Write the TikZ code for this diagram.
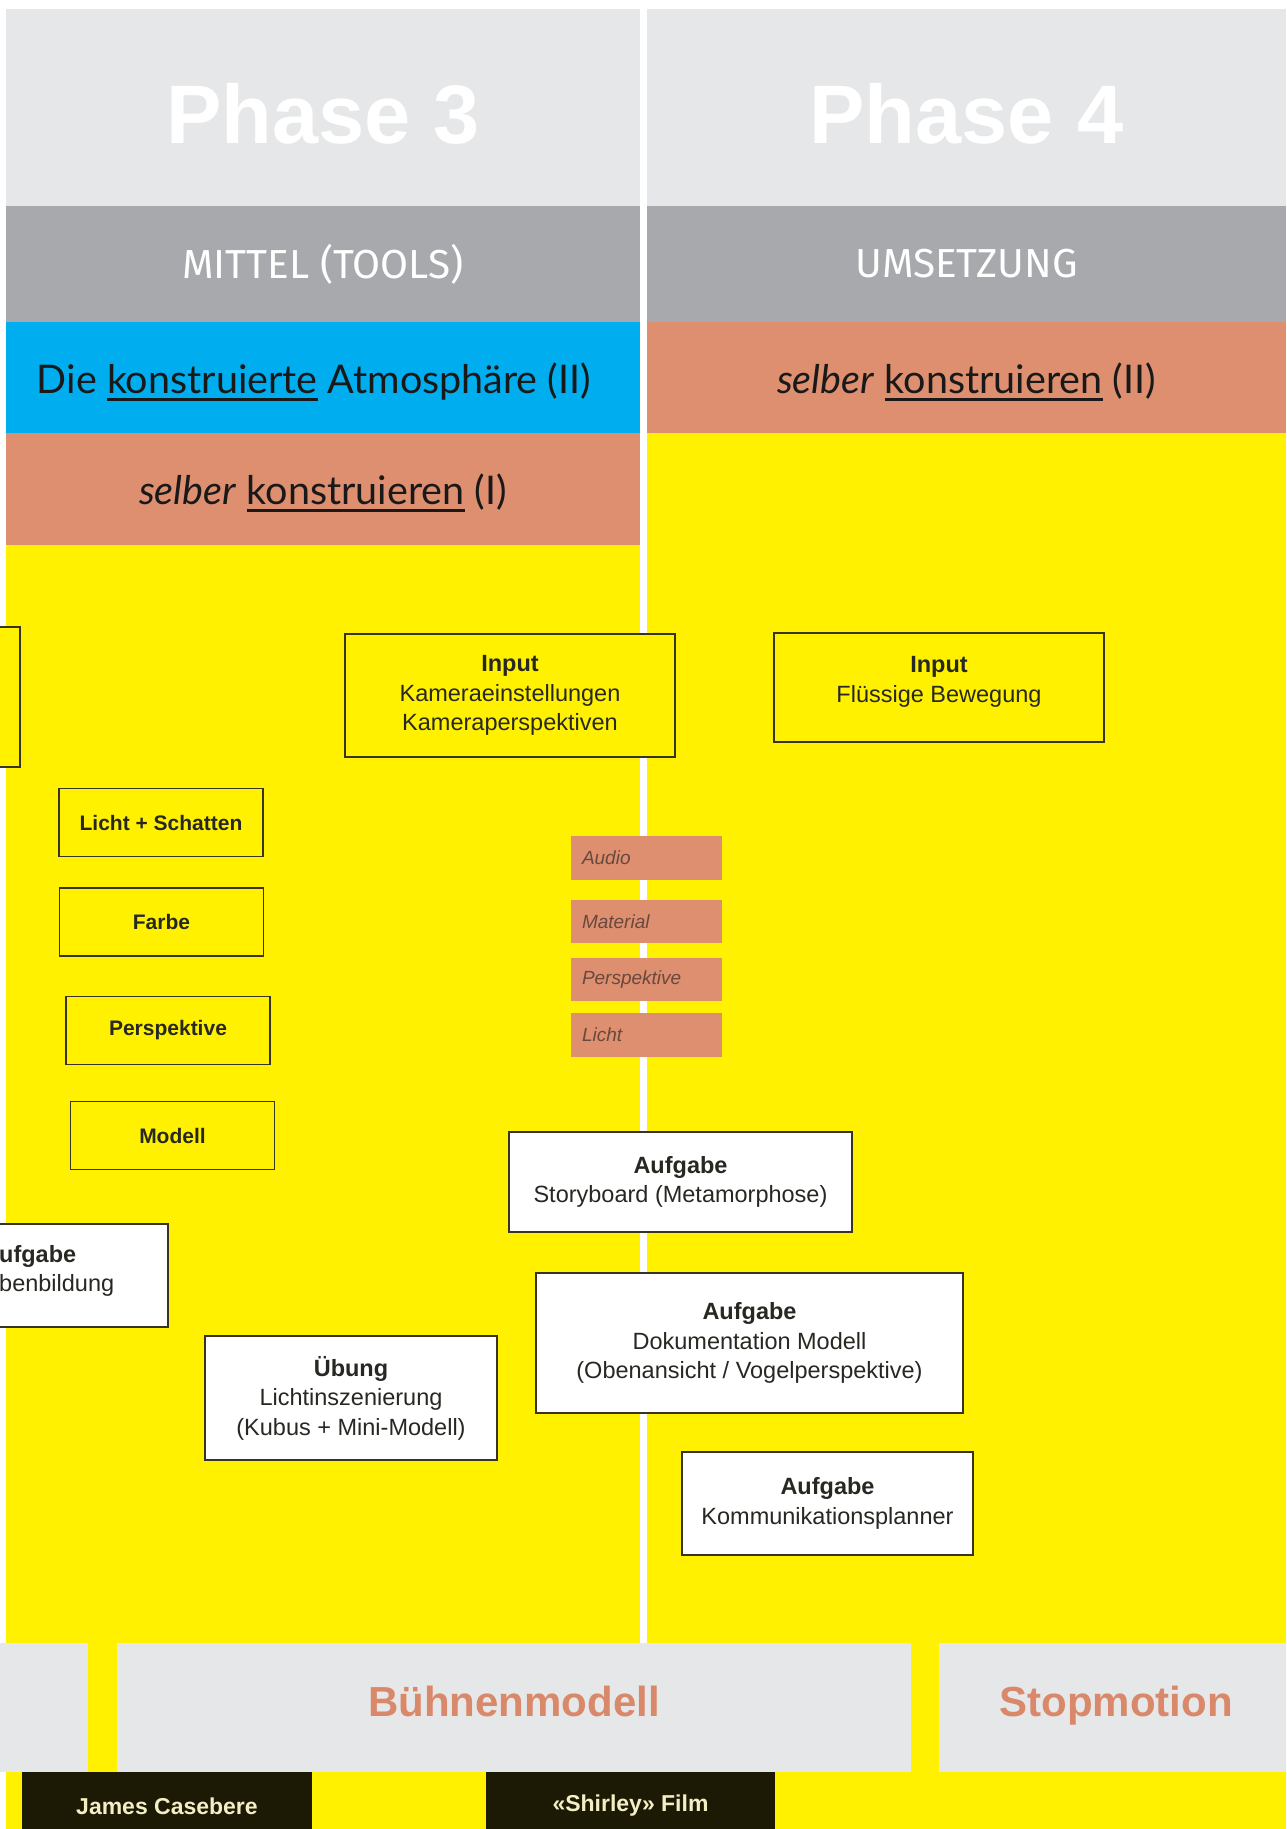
\documentclass[tikz,border=0pt]{standalone}
\usepackage{fontspec}
\setmainfont{Liberation Sans}
\newfontfamily\bandfont{Lato}
\newfontfamily\dinfont{Fira Sans}
\usetikzlibrary{positioning}

\definecolor{hellgrau}{RGB}{230,231,232}
\definecolor{mittelgrau}{RGB}{167,169,172}
\definecolor{cyanblau}{RGB}{0,174,239}
\definecolor{lachs}{RGB}{221,143,111}
\definecolor{gelb}{RGB}{255,241,0}
\definecolor{rahmen}{RGB}{55,52,36}
\definecolor{textgrau}{RGB}{40,40,35}
\definecolor{tagtext}{RGB}{105,72,62}
\definecolor{orangetext}{RGB}{217,136,106}
\definecolor{dunkel}{RGB}{28,26,5}
\definecolor{creme}{RGB}{243,238,196}

\newsavebox\ulkasten
\newcommand\ulwort[1]{\sbox\ulkasten{#1}\rlap{\rule[-.2em]{\wd\ulkasten}{.085em}}\usebox\ulkasten}

\tikzset{
  band/.style={anchor=north west,inner sep=0pt,outer sep=0pt},
  phasetitel/.style={band,fill=hellgrau,text=white,text height=71pt,text depth=0pt,
    font=\fontsize{83}{90}\selectfont\bfseries},
  mitteltitel/.style={band,fill=mittelgrau,text=white,font=\dinfont\fontsize{40.5}{44}\selectfont},
  thema/.style={band,text=black!90,text height=31pt,text depth=0pt,font=\bandfont\fontsize{39.5}{44}\selectfont},
  kasten/.style={draw=rahmen,line width=1.8pt,fill=gelb,inner sep=0pt,align=center,text=textgrau,
    font=\fontsize{23.5}{29.5}\selectfont},
  weiss/.style={kasten,fill=white},
  werkzeug/.style={kasten,font=\fontsize{21}{25}\selectfont\bfseries,minimum width=204,minimum height=68},
  etikett/.style={band,fill=lachs,inner xsep=11pt,text width=129pt,align=left,minimum height=44,
    text=tagtext,font=\fontsize{19}{22}\selectfont\itshape},
  sockel/.style={band,fill=hellgrau,text=orangetext,minimum height=129,text height=29pt,text depth=12pt,
    font=\fontsize{42}{48}\selectfont\bfseries},
  film/.style={band,fill=dunkel,text=creme,minimum height=68,font=\fontsize{23}{27}\selectfont\bfseries}
}

\begin{document}
\begin{tikzpicture}[x=1pt,y=-1pt]
\useasboundingbox (0,0) rectangle (1286,1829);
\clip (0,0) rectangle (1286,1829);
\fill[white] (0,0) rectangle (1286,1829);
\fill[gelb] (6,433) rectangle (1286,1829);
\fill[white] (640,9) rectangle (647,1643);

\node[phasetitel,minimum width=634,minimum height=197] (phasedrei) at (6,9) {Phase 3};
\node[phasetitel,minimum width=639,minimum height=197] (phasevier) at (647,9) {Phase 4};
\node[mitteltitel,minimum width=634,minimum height=116] (mittel) at (6,206) {MITTEL (TOOLS)};
\node[mitteltitel,minimum width=639,minimum height=116] (umsetzung) at (647,206) {UMSETZUNG};
\node[thema,fill=cyanblau,minimum width=634,minimum height=111] (atmosphaere) at (6,322)
  {Die \ulwort{konstruierte} Atmosphäre (II)\hspace*{18pt}};
\node[thema,fill=lachs,minimum width=639,minimum height=111] (selberzwei) at (647,322)
  {\textit{selber} \ulwort{konstruieren} (II)};
\node[thema,fill=lachs,minimum width=634,minimum height=112] (selbereins) at (6,433)
  {\textit{selber} \ulwort{konstruieren} (I)};

\node[kasten,minimum width=270,minimum height=140] (randoben) at (-115,697) {};
\node[kasten,minimum width=330,minimum height=123] (inKamera) at (510,695.5)
  {\textbf{Input}\\Kameraeinstellungen\\Kameraperspektiven};
\node[kasten,minimum width=330,minimum height=109] (inFluss) at (939,687.5)
  {\textbf{Input}\\Flüssige Bewegung\\[-13.5pt]};

\foreach \name/\txt/\x/\y in {licht/Licht + Schatten/161/822.5, farbe/Farbe/161.5/922,
    perspektive/Perspektive/168/1030.5, modell/Modell/172.5/1135.5}
{
    \node[werkzeug] (\name) at (\x,\y) {\txt};
}

\foreach \txt/\y/\h in {Audio/836/44, Material/900/43, Perspektive/958/43, Licht/1013/44}
{
    \node[etikett,minimum height=\h] (tag\txt) at (571,\y) {\txt};
}

\node[weiss,minimum width=280,minimum height=103] (aufgabeLinks) at (28,1275.5) {};
\node[anchor=west,align=left,inner sep=0pt,text=textgrau,font=\fontsize{23.5}{29.5}\selectfont] (aufgabeLinksText) at (-1,1271)
  {\textbf{ufgabe}\\benbildung};
\node[weiss,minimum width=343,minimum height=100] (storyboard) at (680.5,1182)
  {\textbf{Aufgabe}\\Storyboard (Metamorphose)};
\node[weiss,minimum width=427,minimum height=140] (doku) at (749.5,1343)
  {\textbf{Aufgabe}\\Dokumentation Modell\\(Obenansicht / Vogelperspektive)};
\node[weiss,minimum width=292,minimum height=124] (uebung) at (351,1398)
  {\textbf{Übung}\\Lichtinszenierung\\(Kubus + Mini-Modell)};
\node[weiss,minimum width=291,minimum height=103] (kommunikation) at (827.5,1503.5)
  {\textbf{Aufgabe}\\Kommunikationsplanner};

\node[sockel,minimum width=108] (sockelrest) at (-20,1643) {};
\node[sockel,minimum width=794] (buehne) at (117,1643) {Bühnenmodell};
\node[sockel,minimum width=354] (stopmotion) at (939,1643) {Stopmotion};
\node[film,minimum width=290] (casebere) at (22,1772) {James Casebere};
\node[film,minimum width=289] (shirley) at (486,1772) {«Shirley» Film};
\end{tikzpicture}
\end{document}
